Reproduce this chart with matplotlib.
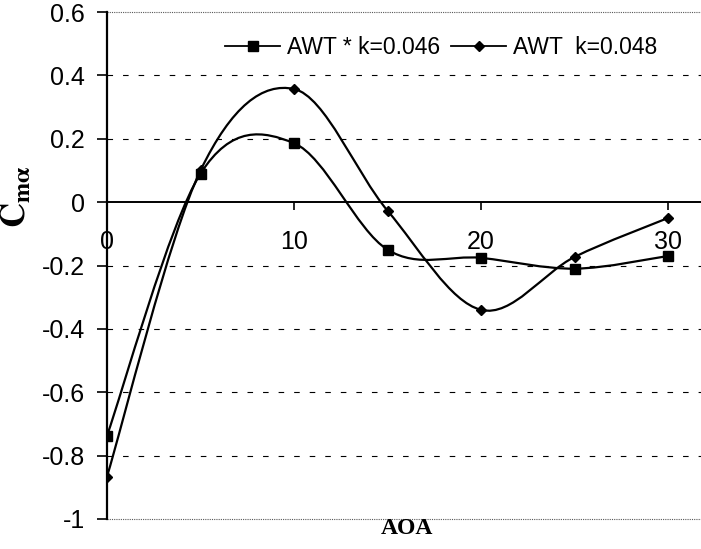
import numpy as np
import matplotlib
matplotlib.use("Agg")
import matplotlib.pyplot as plt
from matplotlib.path import Path
from matplotlib.patches import PathPatch

plt.rcParams['font.family'] = ['Liberation Sans', 'DejaVu Sans']
plt.rcParams['mathtext.fontset'] = 'stix'

# angle of attack and pitch damping for the two runs
aoa = [0, 5, 10, 15, 20, 25, 30]
cm_k046 = [-0.737, 0.09, 0.186, -0.15, -0.176, -0.21, -0.17]
cm_k048 = [-0.866, 0.10, 0.357, -0.027, -0.34, -0.173, -0.05]

y_ticks = [0.6, 0.4, 0.2, 0, -0.2, -0.4, -0.6, -0.8, -1]
y_ticklabels = ["0.6", "0.4", "0.2", "0", "-0.2", "-0.4", "-0.6", "-0.8", "-1"]
x_ticks = [0, 10, 20, 30]


def smooth_path(x, y):
    # spreadsheet style smoothed line: cubic bezier through every point
    pts = np.column_stack([x, y]).astype(float)
    ext = np.vstack([pts[0], pts, pts[-1]])
    verts = [pts[0]]
    codes = [Path.MOVETO]
    for i in range(len(pts) - 1):
        p0, p1, p2, p3 = ext[i], ext[i + 1], ext[i + 2], ext[i + 3]
        verts += [p1 + (p2 - p0) / 6, p2 - (p3 - p1) / 6, p2]
        codes += [Path.CURVE4] * 3
    return Path(verts, codes)


fig = plt.figure(figsize=(7.01, 5.49), dpi=100)
ax = fig.add_axes([107 / 701, 30 / 549, 1 - 107 / 701, 507 / 549])
ax.set_xlim(0, 31.76)
ax.set_ylim(-1, 0.6)

# horizontal grid: dashed inside, dotted at the limits
for v in y_ticks:
    if v == 0:
        continue
    if v in (0.6, -1):
        ax.axhline(v, color='0.35', lw=0.8, ls=(0, (1, 1)), clip_on=False)
    else:
        ax.axhline(v, color='black', lw=0.8, ls=(0, (5, 9)))

for ys, mk, ms, lab in [(cm_k046, 's', 7, 'AWT * k=0.046'),
                        (cm_k048, 'D', 5.5, 'AWT  k=0.048')]:
    ax.add_patch(PathPatch(smooth_path(aoa, ys), fill=False, ec='black', lw=1.6))
    ax.plot(aoa, ys, ls='none', marker=mk, ms=ms, color='black')
    ax.plot([], [], color='black', lw=1.3, marker=mk, ms=ms, label=lab)

for s in ['top', 'right']:
    ax.spines[s].set_visible(False)
ax.spines['bottom'].set_position(('data', 0))
ax.spines['bottom'].set_linewidth(1.4)
ax.spines['left'].set_linewidth(1.6)

ax.set_yticks(y_ticks)
ax.set_yticklabels(y_ticklabels)
ax.set_xticks(x_ticks)
ax.tick_params(axis='y', direction='out', length=7, width=1.2, pad=9, labelsize=18)
ax.tick_params(axis='x', direction='out', length=6, width=1.2, pad=14, labelsize=18)

ax.legend(loc='center left', bbox_to_anchor=(225 / 701, 1 - 48 / 549),
          bbox_transform=fig.transFigure, ncol=2, frameon=False, fontsize=16.5,
          borderpad=0, borderaxespad=0, handlelength=2.4, handletextpad=0.3,
          columnspacing=0.5, numpoints=1)

fig.text(16 / 701, 1 - 197 / 549, r'$\mathbf{C_{m\alpha}}$', rotation=90,
         fontsize=25, ha='center', va='center')
fig.text(407 / 701, 1 - 529 / 549, 'AOA', family='Liberation Serif',
         weight='bold', fontsize=17, ha='center', va='center')

fig.savefig('out.png', dpi=100)
